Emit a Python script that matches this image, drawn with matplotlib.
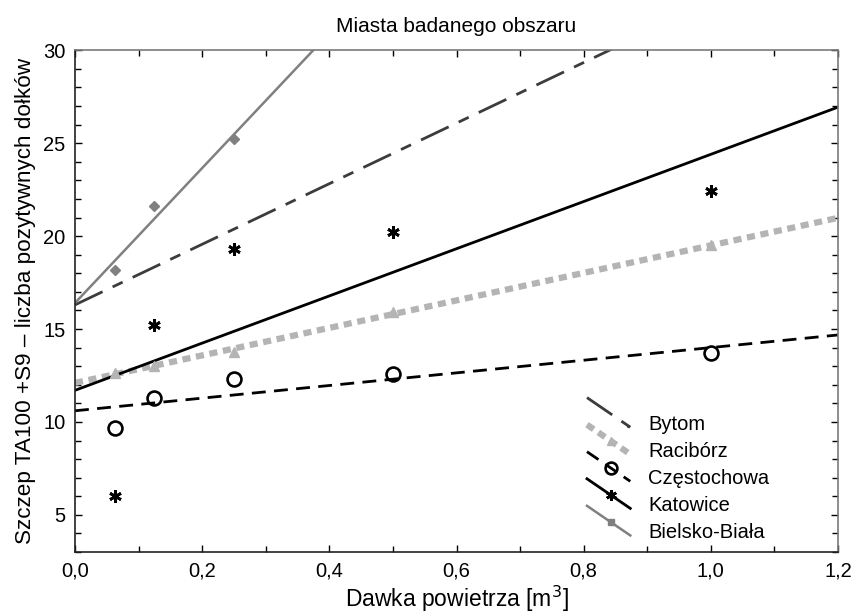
import numpy as np
import matplotlib
matplotlib.use("Agg")
import matplotlib.pyplot as plt
from matplotlib.lines import Line2D
from matplotlib.legend_handler import HandlerLine2D
from matplotlib.ticker import MultipleLocator, FuncFormatter

plt.rcParams['font.family'] = ['Liberation Sans', 'DejaVu Sans']

# dawka powietrza [m3]
doses = [0.0625, 0.125, 0.25, 0.5, 1.0]

cities = ["Bytom", "Racibórz", "Częstochowa", "Katowice", "Bielsko-Biała"]

# punkty pomiarowe (liczba pozytywnych dołków)
bytom_pts = []
raciborz_pts = [12.65, 13.0, 13.75, 15.9, 19.5]
czestochowa_pts = [9.7, 11.3, 12.3, 12.6, 13.7]
katowice_pts = [6.0, 15.2, 19.3, 20.2, 22.4]
bielsko_pts = [18.2, 21.6, 25.2]

# proste regresji: wyraz wolny, nachylenie
intercepts = [16.3, 12.1, 10.6, 11.7, 16.4]
slopes = [16.3, 7.4, 3.4, 12.7, 36.3]

styles = {
    "Bytom": dict(color="#3c3c3c", lw=2.0, ls=(0, (11, 4, 4, 4)), marker=".", ms=3),
    "Racibórz": dict(color="#b4b4b4", lw=4.5, ls=(0, (1.3, 0.9)), marker="^", ms=6.5),
    "Częstochowa": dict(color="black", lw=2.0, ls=(0, (5, 3)), marker="o", ms=10,
                        mfc="none", mew=1.9),
    "Katowice": dict(color="black", lw=2.0, ls="-", marker=(6, 2, 0), ms=9, mew=2.0),
    "Bielsko-Biała": dict(color="#808080", lw=1.8, ls="-", marker="s", ms=5),
}
point_sets = [bytom_pts, raciborz_pts, czestochowa_pts, katowice_pts, bielsko_pts]
point_markers = {"Bielsko-Biała": "D"}


class DiagHandler(HandlerLine2D):
    def create_artists(self, legend, orig_handle, xdescent, ydescent,
                       width, height, fontsize, trans):
        x = [-xdescent, -xdescent + width]
        y = [height * 2.3 - ydescent, height * 0.2 - ydescent]
        line = Line2D(x, y)
        self.update_prop(line, orig_handle, legend)
        line.set_marker("None")
        f = 0.95 if orig_handle.get_label() == "Bytom" else 0.55
        mk = Line2D([x[0] + f * width], [y[0] + f * (y[1] - y[0])])
        self.update_prop(mk, orig_handle, legend)
        mk.set_linestyle("None")
        line.set_transform(trans)
        mk.set_transform(trans)
        return [line, mk]


fig = plt.figure(figsize=(8.52, 6.13), dpi=100)
ax = fig.add_axes([0.088, 0.0995, 0.8956, 0.8185])

xs = np.array([0.0, 1.2])
handles = []
for name, pts, a, b in zip(cities, point_sets, intercepts, slopes):
    st = styles[name]
    ax.plot(xs, a + b * xs, color=st["color"], lw=st["lw"], ls=st["ls"],
            solid_capstyle="butt", dash_capstyle="butt", zorder=2)
    if pts:
        ax.plot(doses[:len(pts)], pts, ls="none",
                marker=point_markers.get(name, st["marker"]),
                ms=st["ms"], color=st["color"], mfc=st.get("mfc", st["color"]),
                mew=st.get("mew", 1.0), zorder=3)
    handles.append(Line2D([], [], color=st["color"], lw=st["lw"], ls=st["ls"],
                          marker=st["marker"], ms=st["ms"] * 0.85,
                          mfc=st.get("mfc", st["color"]), mew=st.get("mew", 1.0),
                          dash_capstyle="butt", label=name))

ax.set_xlim(0, 1.2)
ax.set_ylim(3, 30)
ax.xaxis.set_major_locator(MultipleLocator(0.2))
ax.xaxis.set_minor_locator(MultipleLocator(0.1))
ax.yaxis.set_minor_locator(MultipleLocator(1))
ax.set_yticks([5, 10, 15, 20, 25, 30])
ax.xaxis.set_major_formatter(FuncFormatter(lambda v, p: f"{v:.1f}".replace(".", ",")))
ax.tick_params(which="both", direction="in", top=True, right=True,
               labelsize=14.5, colors="black", pad=7)
ax.tick_params(which="major", length=5, width=1)
ax.tick_params(which="minor", length=4, width=1)
for s in ["top", "right"]:
    ax.spines[s].set_color("#7a7a7a")
for s in ["left", "bottom"]:
    ax.spines[s].set_color("#222222")
for s in ax.spines.values():
    s.set_linewidth(1.2)

ax.set_title("Miasta badanego obszaru", fontsize=15, pad=13)
ax.set_xlabel("Dawka powietrza [m$^3$]", fontsize=16.5, labelpad=2)
ax.set_ylabel("Szczep TA100 +S9 – liczba pozytywnych dołków", fontsize=16.2, labelpad=5)

leg = ax.legend(handles=handles, loc="upper left", bbox_to_anchor=(0.671, 0.273),
                frameon=False, fontsize=14.5, handlelength=2.15, handletextpad=0.9,
                labelspacing=0.4, borderpad=0, borderaxespad=0,
                handler_map={Line2D: DiagHandler()})

fig.savefig("out.png", dpi=100)
